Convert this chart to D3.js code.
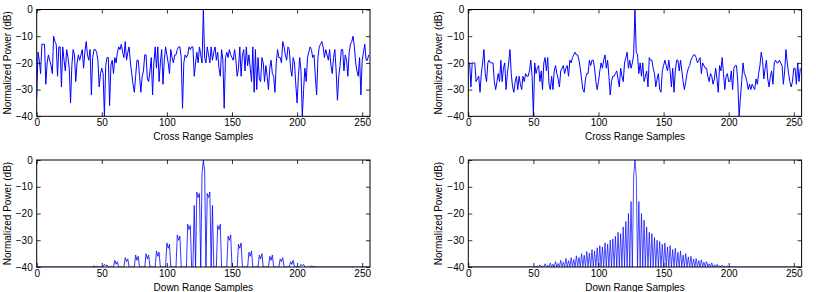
<!DOCTYPE html>
<html>
<head>
<meta charset="utf-8">
<script src="https://cdn.jsdelivr.net/npm/d3@7"></script>
<style>
  body { margin: 0; background: #fff; }
  text { font-family: Arial, "Liberation Sans", sans-serif; }
</style>
</head>
<body>
<svg id="fig" width="816" height="292"></svg>
<script>
// x-akse ticks og y-akse ticks
var xTicks = [0, 50, 100, 150, 200, 250];
var yTicks = [0, -10, -20, -30, -40];

// Cross range, venstre panel (256 samples, dB)
var crossLeft = [
 -33,-16,-19,-24,-13,-13,-13,-28,-20,-17,-19,-21,-24,-10,-12,-13,-25,-14,-14,-29,
 -14,-19,-23,-15,-18,-22,-35,-21,-15,-17,-27,-20,-17,-19,-17,-15,-22,-16,-12,-17,
 -19,-15,-32,-18,-15,-15,-16,-19,-29,-24,-22,-24,-40,-21,-18,-18,-36,-21,-19,-24,
 -18,-20,-16,-14,-15,-13,-16,-18,-12,-19,-16,-14,-20,-24,-28,-31,-25,-19,-19,-25,
 -31,-25,-23,-17,-17,-26,-27,-23,-18,-32,-20,-14,-22,-14,-27,-20,-15,-28,-19,-14,
 -17,-20,-24,-15,-18,-20,-17,-17,-15,-14,-14,-18,-37,-20,-17,-18,-17,-14,-15,-14,
 -14,-25,-20,-16,-20,-14,-17,-20,0,-18,-20,-14,-17,-20,-14,-19,-16,-14,-19,-16,
 -22,-25,-15,-19,-37,-18,-16,-18,-15,-17,-18,-19,-15,-19,-25,-22,-14,-25,-17,-15,
 -23,-14,-21,-17,-22,-27,-14,-31,-15,-30,-18,-26,-27,-18,-20,-27,-21,-25,-30,-22,
 -19,-24,-25,-31,-20,-15,-18,-18,-20,-12,-14,-17,-19,-14,-15,-22,-25,-18,-20,-28,
 -35,-25,-18,-23,-40,-30,-22,-27,-18,-16,-14,-15,-18,-17,-25,-32,-18,-14,-13,-12,
 -14,-18,-15,-17,-19,-15,-21,-24,-18,-15,-23,-34,-25,-21,-15,-15,-23,-17,-19,-25,
 -16,-13,-12,-10,-14,-20,-23,-25,-18,-32,-19,-16,-13,-19,-19,-17
];

// Cross range, hoejre panel
var crossRight = [
 -20,-20,-29,-20,-20,-20,-27,-26,-25,-31,-24,-20,-15,-24,-27,-20,-19,-20,-20,-20,
 -27,-30,-27,-24,-27,-19,-27,-22,-20,-30,-24,-20,-15,-24,-29,-31,-27,-25,-30,-25,
 -28,-30,-25,-27,-24,-25,-25,-23,-19,-25,-40,-20,-24,-22,-21,-27,-23,-30,-20,-18,
 -23,-18,-28,-30,-25,-30,-23,-21,-24,-26,-29,-23,-22,-21,-24,-22,-21,-25,-19,-20,
 -18,-17,-16,-17,-17,-19,-22,-26,-30,-31,-26,-24,-24,-19,-21,-19,-19,-22,-27,-30,
 -27,-23,-20,-22,-19,-17,-22,-19,-25,-32,-27,-25,-25,-24,-23,-26,-29,-22,-25,-27,
 -20,-18,-16,-22,-19,-22,-20,-17,0,-16,-17,-24,-20,-25,-20,-27,-25,-23,-29,-18,
 -19,-19,-22,-24,-29,-26,-24,-30,-31,-23,-21,-19,-21,-23,-19,-23,-29,-22,-31,-23,
 -19,-19,-23,-19,-23,-27,-30,-27,-24,-22,-21,-19,-18,-17,-17,-18,-20,-19,-18,-24,
 -20,-21,-22,-22,-25,-27,-24,-25,-28,-26,-22,-26,-31,-21,-23,-18,-24,-30,-25,-24,
 -27,-27,-23,-30,-22,-21,-21,-27,-40,-33,-27,-20,-24,-25,-27,-30,-28,-30,-28,-29,
 -30,-26,-28,-24,-21,-16,-19,-26,-22,-19,-26,-29,-25,-23,-28,-20,-19,-20,-20,-19,
 -20,-21,-28,-23,-15,-20,-24,-27,-29,-27,-22,-22,-28,-20,-27,-22
];

// Down range, venstre panel
var downLeft = [
 -40,-40,-40,-40,-40,-40,-40,-40,-40,-40,-40,-40,-40,-40,-40,-40,-40,-40,-40,-40,
 -40,-40,-40,-40,-40,-40,-40,-40,-40,-40,-40,-40,-40,-40,-40,-40,-40,-40,-40,-40,
 -40,-40,-40,-40,-39.5,-40,-39.7,-40,-40,-40,-40,-40,-39,-39.5,-39.2,-40,-40,-40,-40,-40,
 -37.5,-39,-38,-40,-40,-40,-40,-40,-36.5,-38,-37,-40,-40,-40,-40,-40,-35.5,-37.5,-36,-40,
 -40,-40,-40,-40,-35,-37,-35.5,-40,-40,-40,-40,-40,-34,-36,-34.5,-40,-40,-40,-40,-40,
 -31,-33,-31.5,-40,-40,-40,-40,-40,-28,-30,-28.5,-40,-40,-40,-40,-40,-24,-26,-24.5,-40,
 -40,-17,-40,-12,-14,-12.5,-40,-5,0,-4,-40,-12.5,-14,-12,-40,-17,-40,-40,-40,-24.5,
 -26,-24,-40,-40,-40,-40,-40,-28.5,-30,-28,-40,-40,-40,-40,-40,-31.5,-33,-31,-40,-40,
 -40,-40,-40,-34.5,-36,-34,-40,-40,-40,-40,-40,-35.5,-37,-35,-40,-40,-40,-40,-40,-36,
 -37.5,-35.5,-40,-40,-40,-40,-40,-37,-38,-36.5,-40,-40,-40,-40,-40,-38,-39,-37.5,-40,-40,
 -40,-40,-40,-39,-39.5,-39,-40,-40,-40,-40,-40,-39.5,-40,-39.7,-40,-40,-40,-40,-40,-40,
 -40,-40,-40,-40,-40,-40,-40,-40,-40,-40,-40,-40,-40,-40,-40,-40,-40,-40,-40,-40,
 -40,-40,-40,-40,-40,-40,-40,-40,-40,-40,-40,-40,-40,-40,-40,-40
];

// Down range, hoejre panel
var downRight = [
 -40,-40,-40,-40,-40,-40,-40,-40,-40,-40,-40,-40,-40,-40,-40,-40,-40,-40,-40,-40,
 -40,-40,-40,-40,-40,-40,-40,-40,-40,-40,-40,-40,-40,-40,-40,-40,-40,-40,-40,-40,
 -40,-40,-40,-40,-40,-40,-40,-40,-40,-40,-40,-39.8,-40,-39.6,-40,-39.2,-40,-39.7,-40,-38.8,
 -40,-39.3,-40,-38.5,-40,-39,-40,-38,-40,-38.7,-40,-37.5,-40,-38.2,-40,-36.8,-40,-37.6,-40,-36.5,
 -40,-37.2,-40,-35.8,-40,-36.4,-40,-35,-40,-35.6,-40,-34.2,-40,-34.8,-40,-33.5,-40,-34,-40,-32.8,
 -40,-32,-40,-32.5,-40,-31,-40,-31.5,-40,-30,-40,-29.5,-40,-28.5,-40,-27,-40,-27.5,-40,-25,
 -40,-23,-40,-20,-40,-15.5,-40,-6,0,-6,-40,-15.5,-40,-20,-40,-22.5,-40,-25,-40,-27,
 -40,-27.5,-40,-29,-40,-30,-40,-30.5,-40,-31.5,-40,-31,-40,-32.5,-40,-32,-40,-33.5,-40,-33,
 -40,-34.5,-40,-34,-40,-35.5,-40,-35,-40,-36.2,-40,-36,-40,-37,-40,-36.8,-40,-37.6,-40,-37.3,
 -40,-38.2,-40,-38,-40,-38.8,-40,-38.5,-40,-39.2,-40,-39,-40,-39.5,-40,-39.3,-40,-39.7,-40,-39.6,
 -40,-39.8,-40,-39.9,-40,-39.9,-40,-40,-40,-40,-40,-40,-40,-40,-40,-40,-40,-40,-40,-40,
 -40,-40,-40,-40,-40,-40,-40,-40,-40,-40,-40,-40,-40,-40,-40,-40,-40,-40,-40,-40,
 -40,-40,-40,-40,-40,-40,-40,-40,-40,-40,-40,-40,-40,-40,-40,-40
];

var svg = d3.select("#fig");

// Paneler: placering i pixels
var panels = [
  { x0: 36.7, x1: 370.0, y0: 9.5, y1: 116.3, data: crossLeft, xlabel: "Cross Range Samples", lw: 1 },
  { x0: 468.3, x1: 801.6, y0: 9.5, y1: 116.3, data: crossRight, xlabel: "Cross Range Samples", lw: 1 },
  { x0: 36.7, x1: 370.0, y0: 160.0, y1: 267.0, data: downLeft, xlabel: "Down Range Samples", lw: 0.8 },
  { x0: 468.3, x1: 801.6, y0: 160.0, y1: 267.0, data: downRight, xlabel: "Down Range Samples", lw: 0.7 }
];

panels.forEach(function(p, i) {
  var x = d3.scaleLinear().domain([0, 256]).range([p.x0, p.x1]);
  var y = d3.scaleLinear().domain([-40, 0]).range([p.y1, p.y0]);
  var g = svg.append("g");

  g.append("clipPath").attr("id", "clip" + i)
    .append("rect")
    .attr("x", p.x0).attr("y", p.y0)
    .attr("width", p.x1 - p.x0).attr("height", p.y1 - p.y0);

  // Linjen
  var line = d3.line()
    .x(function(d, j) { return x(j); })
    .y(function(d) { return y(d); });

  g.append("path")
    .datum(p.data)
    .attr("clip-path", "url(#clip" + i + ")")
    .attr("d", line)
    .attr("fill", "none")
    .attr("stroke", "#0000ff")
    .attr("stroke-width", p.lw)
    .attr("stroke-linejoin", "round");

  // Akser med ticks indad
  var axB = g.append("g").attr("transform", "translate(0," + p.y1 + ")")
    .call(d3.axisBottom(x).tickValues(xTicks).tickSize(-4).tickSizeOuter(0).tickPadding(3));
  var axT = g.append("g").attr("transform", "translate(0," + p.y0 + ")")
    .call(d3.axisTop(x).tickValues(xTicks).tickSize(-4).tickSizeOuter(0).tickFormat(""));
  var axL = g.append("g").attr("transform", "translate(" + p.x0 + ",0)")
    .call(d3.axisLeft(y).tickValues(yTicks).tickSize(-4).tickSizeOuter(0).tickPadding(4));
  var axR = g.append("g").attr("transform", "translate(" + p.x1 + ",0)")
    .call(d3.axisRight(y).tickValues(yTicks).tickSize(-4).tickSizeOuter(0).tickFormat(""));

  [axB, axT, axL, axR].forEach(function(a) {
    a.select(".domain").remove();
    a.selectAll("line").attr("stroke", "#000").attr("stroke-width", 0.8);
    a.selectAll("text").attr("fill", "#000").style("font-size", "10px")
      .style("font-family", "Arial, 'Liberation Sans', sans-serif");
  });

  // Ramme
  g.append("rect")
    .attr("x", p.x0).attr("y", p.y0)
    .attr("width", p.x1 - p.x0).attr("height", p.y1 - p.y0)
    .attr("fill", "none").attr("stroke", "#000").attr("stroke-width", 1);

  // Akse-labels
  g.append("text")
    .attr("x", (p.x0 + p.x1) / 2).attr("y", p.y1 + 24)
    .attr("text-anchor", "middle")
    .style("font-size", "10px")
    .text(p.xlabel);

  g.append("text")
    .attr("transform", "translate(" + (p.x0 - 26) + "," + ((p.y0 + p.y1) / 2) + ") rotate(-90)")
    .attr("text-anchor", "middle")
    .style("font-size", "10px")
    .text("Normalized Power (dB)");
});
</script>
</body>
</html>
